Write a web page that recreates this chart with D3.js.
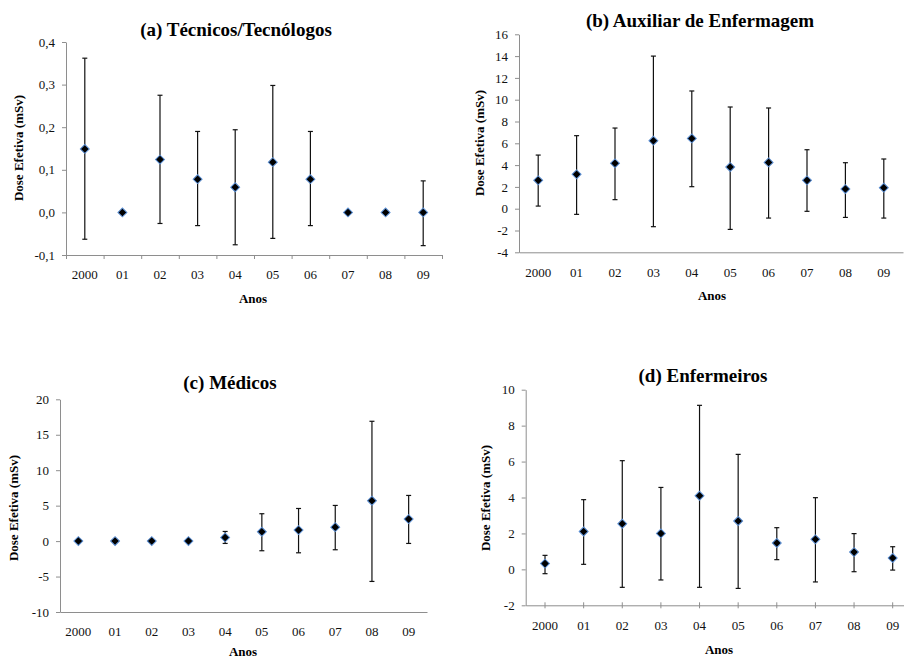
<!DOCTYPE html>
<html>
<head>
<meta charset="utf-8">
<script src="https://cdn.jsdelivr.net/npm/d3@7"></script>
<style>
  html, body { margin: 0; padding: 0; background: #fff; }
  svg { display: block; }
  svg text { font-family: "Liberation Serif", "Times New Roman", Times, serif; }
</style>
</head>
<body>
<svg id="chart" width="904" height="659"></svg>
<script>
// ---------- DATA ----------
const years = ["2000", "01", "02", "03", "04", "05", "06", "07", "08", "09"];

const titleA = "(a) Técnicos/Tecnólogos";
const meanA  = [0.149, 0, 0.124, 0.078, 0.059, 0.118, 0.078, 0, 0, 0];
const lowA   = [-0.063, null, -0.026, -0.031, -0.076, -0.061, -0.031, null, null, -0.078];
const highA  = [0.362, null, 0.275, 0.19, 0.194, 0.298, 0.19, null, null, 0.074];
const ticksA = [-0.1, 0, 0.1, 0.2, 0.3, 0.4];

const titleB = "(b) Auxiliar de Enfermagem";
const meanB  = [2.6, 3.15, 4.16, 6.24, 6.45, 3.82, 4.25, 2.6, 1.8, 1.93];
const lowB   = [0.24, -0.52, 0.83, -1.65, 2.02, -1.9, -0.86, -0.24, -0.8, -0.86];
const highB  = [4.92, 6.7, 7.4, 14.0, 10.8, 9.33, 9.24, 5.41, 4.22, 4.56];
const ticksB = [-4, -2, 0, 2, 4, 6, 8, 10, 12, 14, 16];

const titleC = "(c) Médicos";
const meanC  = [0, 0, 0, 0, 0.52, 1.32, 1.55, 1.97, 5.69, 3.1];
const lowC   = [null, null, null, null, -0.33, -1.36, -1.65, -1.22, -5.69, -0.33];
const highC  = [null, null, null, null, 1.36, 3.86, 4.6, 5.03, 16.9, 6.44];
const ticksC = [-10, -5, 0, 5, 10, 15, 20];

const titleD = "(d) Enfermeiros";
const meanD  = [0.32, 2.11, 2.54, 2.0, 4.1, 2.69, 1.47, 1.67, 0.96, 0.63];
const lowD   = [-0.24, 0.28, -1.0, -0.59, -1.0, -1.06, 0.54, -0.7, -0.13, -0.04];
const highD  = [0.78, 3.88, 6.05, 4.56, 9.13, 6.4, 2.32, 3.99, 1.99, 1.26];
const ticksD = [-2, 0, 2, 4, 6, 8, 10];

const yLabel = "Dose Efetiva (mSv)";
const xLabel = "Anos";

// ---------- DRAW ----------
const svg = d3.select("#chart");
svg.append("rect").attr("width", 904).attr("height", 659).attr("fill", "#fff");

const AXIS = "#8e8e8e";

function panel(cfg) {
  const g = svg.append("g");
  const x = d3.scaleBand().domain(years).range([cfg.x0, cfg.x1]);
  const y = d3.scaleLinear().domain([cfg.ticks[0], cfg.ticks[cfg.ticks.length - 1]]).range([cfg.yb, cfg.yt]);

  // y axis
  const ya = g.append("g").attr("transform", `translate(${cfg.x0},0)`)
    .call(d3.axisLeft(y).tickValues(cfg.ticks).tickSize(4).tickSizeOuter(0).tickPadding(7)
      .tickFormat(cfg.fmt));
  ya.attr("font-family", null);
  ya.select(".domain").attr("stroke", AXIS);
  ya.selectAll(".tick line").attr("stroke", AXIS);
  ya.selectAll("text").attr("font-size", 13).attr("fill", "#111");

  // x axis (labels + domain)
  const xa = g.append("g").attr("transform", `translate(0,${cfg.yb})`)
    .call(d3.axisBottom(x).tickSize(0).tickSizeOuter(0).tickPadding(cfg.xpad));
  xa.attr("font-family", null);
  xa.select(".domain").attr("stroke", AXIS);
  xa.selectAll("text").attr("font-size", 13).attr("fill", "#111");

  // x tick marks
  if (cfg.xticks === "between") {
    const bx = d3.scaleLinear().domain([0, years.length]).range([cfg.x0, cfg.x1]);
    const ta = g.append("g").attr("transform", `translate(0,${cfg.yb})`)
      .call(d3.axisBottom(bx).ticks(years.length).tickSize(4).tickSizeOuter(0).tickFormat(""));
    ta.select(".domain").remove();
    ta.selectAll(".tick line").attr("stroke", AXIS);
  } else if (cfg.xticks === "center") {
    g.append("g").selectAll("line").data(years).join("line")
      .attr("x1", d => x(d) + x.bandwidth() / 2).attr("x2", d => x(d) + x.bandwidth() / 2)
      .attr("y1", cfg.yb - 3).attr("y2", cfg.yb + 3)
      .attr("stroke", AXIS);
  }

  const data = years.map((yr, i) => ({ yr, m: cfg.mean[i], lo: cfg.low[i], hi: cfg.high[i] }));
  const cx = d => x(d.yr) + x.bandwidth() / 2;
  const eb = data.filter(d => d.lo !== null && d.hi !== null);

  // error bars
  const eg = g.append("g").attr("stroke", "#111").attr("stroke-width", 1.2);
  eg.selectAll(".v").data(eb).join("line")
    .attr("x1", cx).attr("x2", cx).attr("y1", d => y(d.lo)).attr("y2", d => y(d.hi));
  eg.selectAll(".t").data(eb).join("line")
    .attr("x1", d => cx(d) - 2.5).attr("x2", d => cx(d) + 2.5).attr("y1", d => y(d.hi)).attr("y2", d => y(d.hi));
  eg.selectAll(".b").data(eb).join("line")
    .attr("x1", d => cx(d) - 2.5).attr("x2", d => cx(d) + 2.5).attr("y1", d => y(d.lo)).attr("y2", d => y(d.lo));

  // markers
  const sym = d3.symbol().type(d3.symbolSquare).size(40);
  g.append("g").selectAll("path").data(data).join("path")
    .attr("d", sym)
    .attr("transform", d => `translate(${cx(d)},${y(d.m)}) rotate(45)`)
    .attr("fill", "#000").attr("stroke", "#5b8fd4").attr("stroke-width", 1);

  // titles
  g.append("text").attr("x", cfg.tx).attr("y", cfg.ty).attr("text-anchor", "middle")
    .attr("font-size", 19).attr("font-weight", "bold").attr("fill", "#000")
    .text(cfg.title);
  g.append("text").attr("x", cfg.ax).attr("y", cfg.ay).attr("text-anchor", "middle")
    .attr("font-size", 13).attr("font-weight", "bold").attr("fill", "#000")
    .text(xLabel);
  g.append("text").attr("transform", `translate(${cfg.lx},${cfg.ly}) rotate(-90)`)
    .attr("text-anchor", "middle").attr("dy", "0.35em")
    .attr("font-size", 13).attr("font-weight", "bold").attr("fill", "#000")
    .text(yLabel);
}

const fmtComma = d => d.toFixed(1).replace(".", ",");
const fmtInt = d => String(d);

panel({ title: titleA, mean: meanA, low: lowA, high: highA, ticks: ticksA, fmt: fmtComma,
  x0: 66, x1: 442, yt: 42, yb: 255, xpad: 15, xticks: "between",
  tx: 236, ty: 36, ax: 253, ay: 303, lx: 18, ly: 148 });

panel({ title: titleB, mean: meanB, low: lowB, high: highB, ticks: ticksB, fmt: fmtInt,
  x0: 519, x1: 903, yt: 34.3, yb: 252.3, xpad: 15, xticks: "none",
  tx: 700, ty: 27, ax: 712, ay: 300, lx: 479, ly: 143 });

panel({ title: titleC, mean: meanC, low: lowC, high: highC, ticks: ticksC, fmt: fmtInt,
  x0: 60, x1: 427, yt: 399.3, yb: 612, xpad: 15, xticks: "none",
  tx: 230, ty: 389, ax: 243, ay: 656, lx: 13, ly: 508 });

panel({ title: titleD, mean: meanD, low: lowD, high: highD, ticks: ticksD, fmt: fmtInt,
  x0: 525.7, x1: 912, yt: 389.7, yb: 605.3, xpad: 15.5, xticks: "center",
  tx: 703, ty: 382, ax: 719, ay: 654, lx: 485, ly: 498 });
</script>
</body>
</html>
